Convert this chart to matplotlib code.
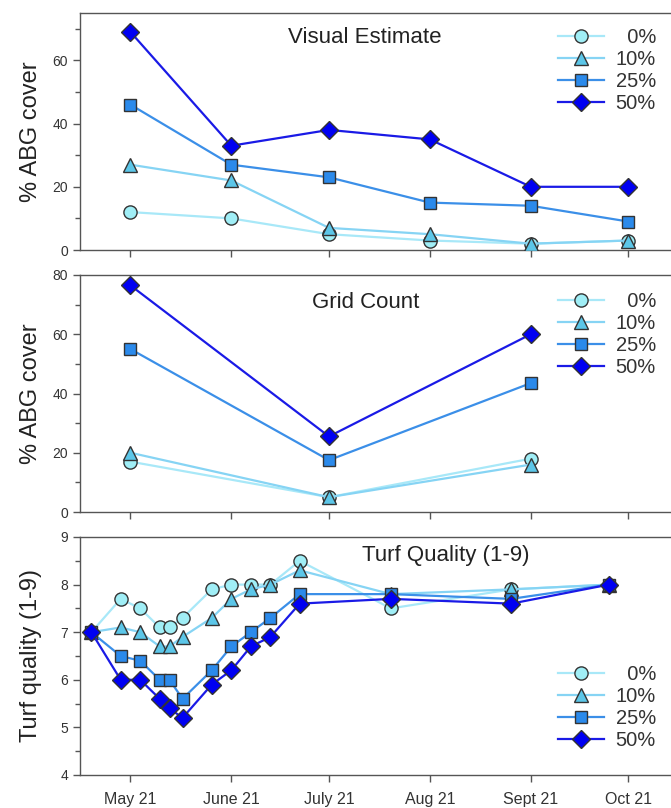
import numpy as np
import pandas as pd
import matplotlib
matplotlib.use("Agg")
import matplotlib.pyplot as plt
from matplotlib.ticker import MultipleLocator

plt.rcParams['font.family'] = ['Liberation Sans', 'DejaVu Sans']

# ---- data ----
levels = ['  0%', '10%', '25%', '50%']

month_dates = pd.to_datetime(['2021-05-01', '2021-06-01', '2021-07-01',
                              '2021-08-01', '2021-09-01', '2021-10-01'])
month_labels = ['May 21', 'June 21', 'July 21', 'Aug 21', 'Sept 21', 'Oct 21']

visual_dates = month_dates
visual_0 = [12, 10, 5, 3, 2, 3]
visual_10 = [27, 22, 7, 5, 2, 3]
visual_25 = [46, 27, 23, 15, 14, 9]
visual_50 = [69, 33, 38, 35, 20, 20]

grid_dates = pd.to_datetime(['2021-05-01', '2021-07-01', '2021-09-01'])
grid_0 = [17, 5, 18]
grid_10 = [20, 5, 16]
grid_25 = [55, 17.5, 43.5]
grid_50 = [76.5, 25.5, 60]

turf_dates = pd.to_datetime(['2021-04-19', '2021-04-28', '2021-05-04', '2021-05-10',
                             '2021-05-13', '2021-05-17', '2021-05-26', '2021-06-01',
                             '2021-06-07', '2021-06-13', '2021-06-22', '2021-07-20',
                             '2021-08-26', '2021-09-25'])
turf_0 = [7.0, 7.7, 7.5, 7.1, 7.1, 7.3, 7.9, 8.0, 8.0, 8.0, 8.5, 7.5, 7.9, 8.0]
turf_10 = [7.0, 7.1, 7.0, 6.7, 6.7, 6.9, 7.3, 7.7, 7.9, 8.0, 8.3, 7.8, 7.9, 8.0]
turf_25 = [7.0, 6.5, 6.4, 6.0, 6.0, 5.6, 6.2, 6.7, 7.0, 7.3, 7.8, 7.8, 7.7, 8.0]
turf_50 = [7.0, 6.0, 6.0, 5.6, 5.4, 5.2, 5.9, 6.2, 6.7, 6.9, 7.6, 7.7, 7.6, 8.0]

# ---- styles ----
line_colors = ['#a8e8f8', '#86d4f4', '#3b8fe8', '#1a1ae6']
face_colors = ['#a0eef6', '#5cc6e8', '#2b8aeb', '#0000f2']
markers = ['o', '^', 's', 'D']
msizes = [9.5, 9.5, 8.5, 9.5]
edge = '#333333'
grey = '#555555'
txt = '#222222'

fig = plt.figure(figsize=(6.71, 8.08), dpi=100)
W, H = 671.0, 808.0
left_px, right_px = 80, 700


def make_ax(top_px, bot_px):
    return fig.add_axes([left_px / W, 1 - bot_px / H,
                         (right_px - left_px) / W, (bot_px - top_px) / H])


ax1 = make_ax(13, 250)
ax2 = make_ax(275, 512)
ax3 = make_ax(537, 775)


def draw(ax, dates, series):
    for i, ys in enumerate(series):
        ax.plot(dates, ys, color=line_colors[i], lw=1.6, marker=markers[i],
                ms=msizes[i], mfc=face_colors[i], mec=edge, mew=1.0,
                label=levels[i], zorder=3 + i)


draw(ax1, visual_dates, [visual_0, visual_10, visual_25, visual_50])
draw(ax2, grid_dates, [grid_0, grid_10, grid_25, grid_50])
draw(ax3, turf_dates, [turf_0, turf_10, turf_25, turf_50])

ax1.set_ylim(0, 75)
ax1.yaxis.set_major_locator(MultipleLocator(20))
ax1.yaxis.set_minor_locator(MultipleLocator(10))
ax2.set_ylim(0, 80)
ax2.yaxis.set_major_locator(MultipleLocator(20))
ax2.yaxis.set_minor_locator(MultipleLocator(10))
ax3.set_ylim(4, 9)
ax3.yaxis.set_major_locator(MultipleLocator(1))
ax3.yaxis.set_minor_locator(MultipleLocator(0.5))

xmin, xmax = pd.Timestamp('2021-04-15 12:00'), pd.Timestamp('2021-10-23')
for ax in (ax1, ax2, ax3):
    ax.set_xlim(xmin, xmax)
    ax.set_xticks(month_dates)
    ax.set_xticklabels([])
    ax.tick_params(axis='both', which='both', direction='out', color=grey,
                   labelcolor='#333333', labelsize=10, width=1)
    ax.tick_params(axis='both', which='major', length=5)
    ax.tick_params(axis='y', which='minor', length=3.5)
    for s in ax.spines.values():
        s.set_color(grey)
        s.set_linewidth(1)
ax3.set_xticklabels(month_labels, fontsize=11.5)
ax3.tick_params(axis='x', pad=7)

ax1.set_ylabel('% ABG cover', fontsize=17, color=txt)
ax2.set_ylabel('% ABG cover', fontsize=17, color=txt)
ax3.set_ylabel('Turf quality (1-9)', fontsize=17, color=txt)
for ax in (ax1, ax2, ax3):
    ax.yaxis.set_label_coords(-0.062, 0.5)

ax1.text(0.46, 0.895, 'Visual Estimate', transform=ax1.transAxes, ha='center',
         va='center', fontsize=16, color=txt)
ax2.text(0.46, 0.882, 'Grid Count', transform=ax2.transAxes, ha='center',
         va='center', fontsize=16, color=txt)
ax3.text(0.59, 0.924, 'Turf Quality (1-9)', transform=ax3.transAxes, ha='center',
         va='center', fontsize=16, color=txt)

leg_kw = dict(frameon=False, fontsize=14.5, handlelength=2.25, handletextpad=0.6,
              labelspacing=0.15, borderaxespad=0, labelcolor='#333333')
ax1.legend(loc='upper right', bbox_to_anchor=(0.942, 0.97), **leg_kw)
ax2.legend(loc='upper right', bbox_to_anchor=(0.942, 0.962), **leg_kw)
ax3.legend(loc='lower right', bbox_to_anchor=(0.942, 0.071), **leg_kw)

fig.savefig('out.png', dpi=100)
